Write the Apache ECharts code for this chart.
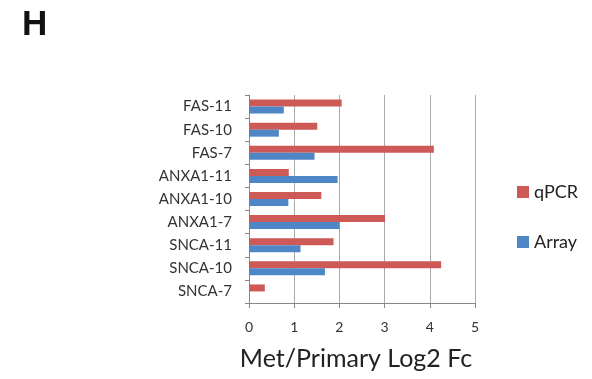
<!DOCTYPE html>
<html><head><meta charset="utf-8">
<script src="https://cdn.jsdelivr.net/npm/echarts@6/dist/echarts.min.js"></script>
<style>html,body{margin:0;padding:0;background:#fff}#c{width:592px;height:379px}</style>
</head><body><div id="c"></div>
<script>
const categories = ['SNCA-7','SNCA-10','SNCA-11','ANXA1-7','ANXA1-10','ANXA1-11','FAS-7','FAS-10','FAS-11'];
const qpcr = [0.35, 4.25, 1.87, 3.01, 1.6, 0.88, 4.09, 1.51, 2.05];
const arrayVals = [0, 1.68, 1.14, 2.0, 0.87, 1.96, 1.45, 0.66, 0.77];
const xTicks = [0, 1, 2, 3, 4, 5];
const font = 'Lato';
const chart = echarts.init(document.getElementById('c'));
chart.setOption({
  animation: false,
  title: {text: 'H', left: 17, top: 3, textStyle: {fontFamily: 'Liberation Sans', fontWeight: 'bold', fontSize: 35, color: '#111'}},
  legend: {
    orient: 'vertical', left: 512, top: 178, itemGap: 32, itemWidth: 12, itemHeight: 12,
    icon: 'rect', textStyle: {fontFamily: font, fontSize: 18, color: '#222'},
    data: ['qPCR', 'Array']
  },
  grid: {left: 249, right: 117, top: 95, bottom: 76},
  xAxis: {
    type: 'value', min: xTicks[0], max: xTicks[xTicks.length-1], interval: 1,
    axisLine: {show: true, lineStyle: {color: '#888'}},
    axisTick: {show: true, length: 5, lineStyle: {color: '#888'}},
    splitLine: {show: true, lineStyle: {color: '#aaa'}},
    axisLabel: {fontFamily: font, fontSize: 14, color: '#333', margin: 17},
    name: 'Met/Primary Log2 Fc', nameLocation: 'middle', nameGap: 43,
    nameTextStyle: {fontFamily: font, fontSize: 25, color: '#222', padding: [0, 12, 0, 0]}
  },
  yAxis: {
    type: 'category', data: categories,
    axisLine: {show: true, lineStyle: {color: '#888'}},
    axisTick: {show: true, length: 4, lineStyle: {color: '#888'}},
    axisLabel: {fontFamily: font, fontSize: 15, color: '#333', margin: 17}
  },
  series: [
    {name: 'qPCR', type: 'bar', data: qpcr, barWidth: 7, barGap: '0%', itemStyle: {color: '#cd5a57'}},
    {name: 'Array', type: 'bar', data: arrayVals, barWidth: 7, barGap: '0%', itemStyle: {color: '#4f86c6'}}
  ]
});
</script></body></html>
